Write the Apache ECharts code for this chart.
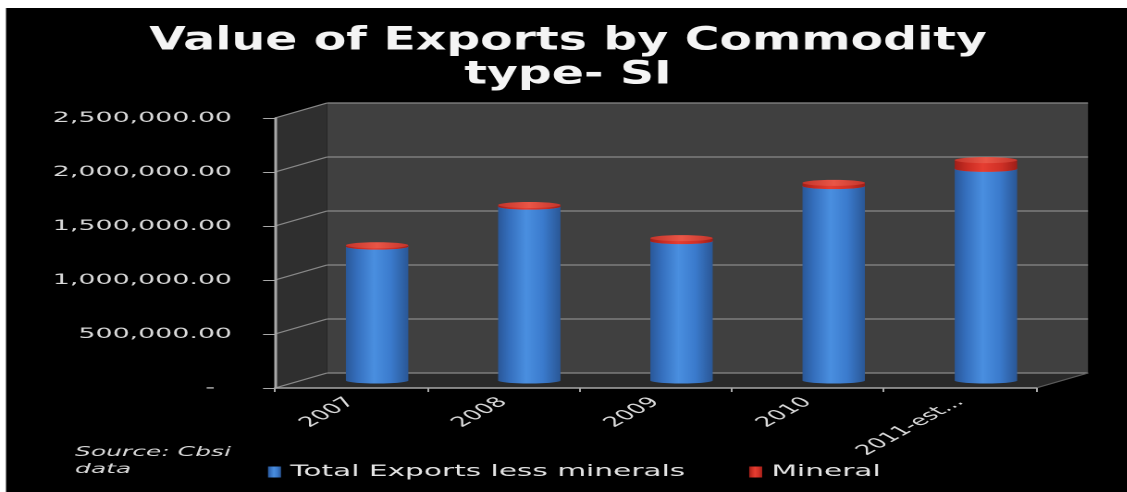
<!DOCTYPE html>
<html>
<head>
<meta charset="utf-8">
<title>Value of Exports by Commodity type- SI</title>
<script src="https://cdn.jsdelivr.net/npm/echarts@6.0.0/dist/echarts.min.js"></script>
<style>
  html, body { margin: 0; padding: 0; background: #000; overflow: hidden; }
  #chart { height: 492px; transform-origin: 0 0; }
</style>
</head>
<body>
<div id="chart"></div>
<script>
// ---- data ----
const categories = ['2007', '2008', '2009', '2010', '2011-est...'];
const exportsLessMinerals = [1240000, 1610000, 1290000, 1800000, 1960000];
const mineral = [12000, 15000, 28000, 30000, 80000];
const yTickValues = [0, 500000, 1000000, 1500000, 2000000, 2500000];
const yTickLabels = ['-', '500,000.00', '1,000,000.00', '1,500,000.00', '2,000,000.00', '2,500,000.00'];
const seriesNames = ['Total Exports less minerals', 'Mineral'];
const titleLines = ['Value of Exports by Commodity', 'type- SI'];
const sourceLines = ['Source: Cbsi', 'data'];

// ---- layout ----
// The drawing is made narrow and widened with a CSS scaleX, giving the
// wide lettering of the printed chart. sx() turns page x into drawing x.
const W = 1127, H = 492, S = 1.85;
const sx = x => x / S;
const DEPTH_X = 26, DEPTH_Y = 7.5;   // half-depth of the 3D box (page px)
const CYL_RY = 3;                    // vertical radius of cylinder ends
const FONT = '"DejaVu Sans", sans-serif';

const el = document.getElementById('chart');
el.style.width = (W / S) + 'px';
el.style.transform = 'scaleX(' + S + ')';

const lg = (stops) => new echarts.graphic.LinearGradient(0, 0, 1, 0,
  stops.map(s => ({ offset: s[0], color: s[1] })));

const blueBody = () => lg([[0, '#2a5899'], [0.18, '#356fbd'], [0.45, '#4a8fe0'], [0.72, '#3b7bcd'], [1, '#2a5796']]);
const blueTop = () => lg([[0, '#3f7cc8'], [0.5, '#6aa6ec'], [1, '#3f7cc8']]);
const redBody = () => lg([[0, '#a11f19'], [0.2, '#c92c22'], [0.45, '#e63e32'], [0.75, '#cf3026'], [1, '#9e1e18']]);
const redTop = () => lg([[0, '#c4352b'], [0.5, '#ea5647'], [1, '#c4352b']]);

// Back wall, side wall, floor and their gridlines
function renderWalls(params, api) {
  const cs = params.coordSys;
  const dx = sx(DEPTH_X), dy = DEPTH_Y;
  const x0 = cs.x, x1 = cs.x + cs.width, yT = cs.y, yB = cs.y + cs.height;
  const children = [
    { type: 'rect', shape: { x: x0 + dx, y: yT - dy, width: cs.width, height: cs.height },
      style: { fill: '#404040' } },
    { type: 'polygon', shape: { points: [[x0 - dx, yT + dy], [x0 + dx, yT - dy], [x0 + dx, yB - dy], [x0 - dx, yB + dy]] },
      style: { fill: '#2f2f2f' } },
    { type: 'polygon', shape: { points: [[x0 - dx, yB + dy], [x0 + dx, yB - dy], [x1 + dx, yB - dy], [x1 - dx, yB + dy]] },
      style: { fill: '#2a2a2a' } }
  ];
  yTickValues.forEach(v => {
    const y = api.coord([0, v])[1];
    children.push({ type: 'line', shape: { x1: x0 + dx, y1: y - dy, x2: x1 + dx, y2: y - dy },
      style: { stroke: '#8a8a8a', lineWidth: 1.3 } });
    children.push({ type: 'line', shape: { x1: x0 - dx, y1: y + dy, x2: x0 + dx, y2: y - dy },
      style: { stroke: '#8a8a8a', lineWidth: 1 } });
  });
  children.push({ type: 'line', shape: { x1: x1 - dx, y1: yB + dy, x2: x1 + dx, y2: yB - dy },
    style: { stroke: '#5c5c5c', lineWidth: 1 } });
  return { type: 'group', children: children };
}

// One cylinder segment between two values
function segment(api, i, from, to, body, top) {
  const p0 = api.coord([i, from]);
  const p1 = api.coord([i, to]);
  const w = api.size([1, 0])[0] * 0.41;
  return {
    type: 'group',
    children: [
      { type: 'rect', shape: { x: p0[0] - w / 2, y: p1[1], width: w, height: p0[1] - p1[1] }, style: { fill: body() } },
      { type: 'ellipse', shape: { cx: p0[0], cy: p0[1], rx: w / 2, ry: CYL_RY }, style: { fill: body() } },
      { type: 'ellipse', shape: { cx: p1[0], cy: p1[1], rx: w / 2, ry: CYL_RY }, style: { fill: top() } }
    ]
  };
}

function renderBase(params, api) {
  return segment(api, api.value(0), 0, api.value(1), blueBody, blueTop);
}
function renderMineral(params, api) {
  const base = api.value(1);
  return segment(api, api.value(0), base, base + api.value(2), redBody, redTop);
}

const option = {
  backgroundColor: '#000',
  animation: false,
  grid: [
    // front plane of the 3D box (axes and labels)
    { left: sx(275), top: 118, width: sx(761), height: 270, containLabel: false, outerBoundsMode: 'none' },
    // middle plane, where the cylinders stand
    { left: sx(301), top: 110.5, width: sx(761), height: 270, containLabel: false, outerBoundsMode: 'none' }
  ],
  xAxis: [
    {
      gridIndex: 0, type: 'category', data: categories, boundaryGap: true, z: 10,
      axisLine: { show: true, lineStyle: { color: '#a8a8a8', width: 1.5 } },
      axisTick: { show: true, interval: 0, length: 4, alignWithLabel: false, lineStyle: { color: '#a8a8a8' } },
      axisLabel: { interval: 0, rotate: 45, margin: 12, color: '#dadada', fontFamily: FONT, fontSize: 14, hideOverlap: false },
      splitLine: { show: false }
    },
    { gridIndex: 1, type: 'category', data: categories, boundaryGap: true, show: false }
  ],
  yAxis: [
    {
      gridIndex: 0, type: 'value', min: 0, max: 2500000, interval: 500000, z: 10,
      axisLine: { show: true, lineStyle: { color: '#a8a8a8', width: 1.5 } },
      axisTick: { show: true, length: sx(12), lineStyle: { color: '#a8a8a8' } },
      splitLine: { show: false },
      axisLabel: {
        margin: sx(43), color: '#dadada', fontFamily: FONT, fontSize: 14.5, hideOverlap: false,
        formatter: v => {
          const s = yTickLabels[yTickValues.indexOf(v)];
          return v === 0 ? '{z|' + s + '}' : s;
        },
        rich: { z: { padding: [0, sx(17), 0, 0], color: '#dadada', fontFamily: FONT, fontSize: 14.5 } }
      }
    },
    { gridIndex: 1, type: 'value', min: 0, max: 2500000, interval: 500000, show: false }
  ],
  legend: {
    data: seriesNames, left: sx(268), top: 464, orient: 'horizontal', padding: 0,
    icon: 'rect', itemWidth: sx(13), itemHeight: 11, itemGap: sx(64), selectedMode: false,
    textStyle: { color: '#e4e4e4', fontFamily: FONT, fontSize: 16 }
  },
  series: [
    { type: 'custom', xAxisIndex: 1, yAxisIndex: 1, data: [[0, 0]], renderItem: renderWalls,
      silent: true, z: 0, clip: false },
    { type: 'custom', name: seriesNames[0], xAxisIndex: 1, yAxisIndex: 1, z: 2, clip: false,
      encode: { x: 0, y: 1 },
      itemStyle: { color: blueBody() },
      data: categories.map((c, i) => [i, exportsLessMinerals[i]]),
      renderItem: renderBase },
    { type: 'custom', name: seriesNames[1], xAxisIndex: 1, yAxisIndex: 1, z: 3, clip: false,
      encode: { x: 0, y: [1, 2] },
      itemStyle: { color: redBody() },
      data: categories.map((c, i) => [i, exportsLessMinerals[i], mineral[i]]),
      renderItem: renderMineral }
  ],
  graphic: [
    { type: 'rect', z: 100, shape: { x: 0, y: 0, width: sx(W), height: 8 }, style: { fill: '#ffffff' } },
    { type: 'rect', z: 100, shape: { x: 0, y: 0, width: sx(6), height: H }, style: { fill: '#ffffff' } },
    { type: 'text', z: 50, x: sx(568), y: 24, scaleX: 0.8,
      style: { text: titleLines.join('\n'), fill: '#f4f4f4', font: 'bold 32px ' + FONT,
               align: 'center', verticalAlign: 'top', textAlign: 'center', textVerticalAlign: 'top', lineHeight: 34 } },
    { type: 'text', z: 50, x: sx(75), y: 444,
      style: { text: sourceLines.join('\n'), fill: '#d8d8d8', font: 'italic 13.5px ' + FONT,
               align: 'left', verticalAlign: 'top', textAlign: 'left', textVerticalAlign: 'top', lineHeight: 17 } }
  ]
};

const chart = echarts.init(el, null, { renderer: 'canvas', devicePixelRatio: 2 });
chart.setOption(option);
</script>
</body>
</html>
